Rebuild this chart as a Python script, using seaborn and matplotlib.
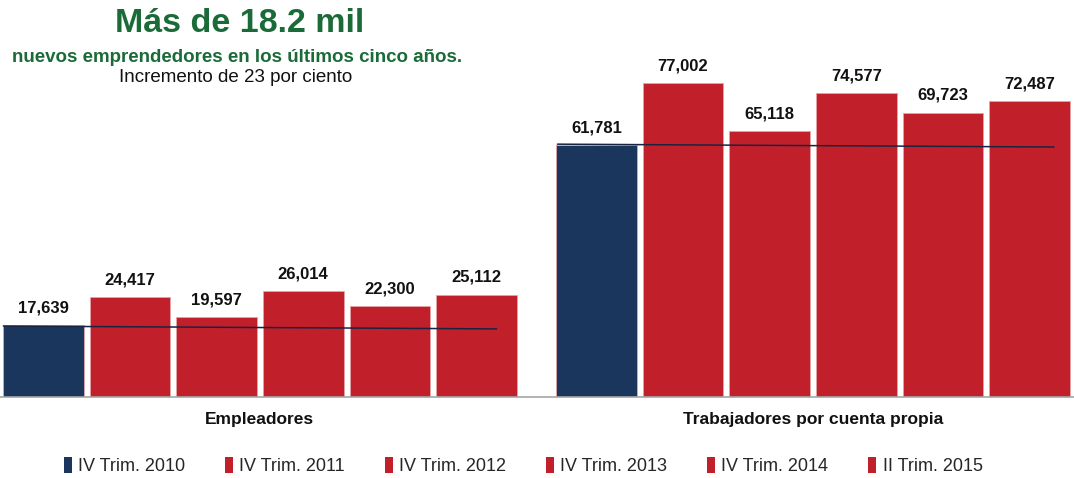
import matplotlib
matplotlib.use("Agg")
import matplotlib.pyplot as plt
import seaborn as sns
import pandas as pd
from matplotlib.patches import Patch

grupos = ["Empleadores", "Trabajadores por cuenta propia"]
periodos = ["IV Trim. 2010", "IV Trim. 2011", "IV Trim. 2012",
            "IV Trim. 2013", "IV Trim. 2014", "II Trim. 2015"]
empleadores = [17639, 24417, 19597, 26014, 22300, 25112]
cuenta_propia = [61781, 77002, 65118, 74577, 69723, 72487]
tendencia_emp = [17400, 16700]
tendencia_cp = [62000, 61300]

azul = "#1b365d"
rojo = "#c1202a"
colores = [azul] + [rojo] * 5

filas = []
for g, vals in zip(grupos, [empleadores, cuenta_propia]):
    for p, v in zip(periodos, vals):
        filas.append({"grupo": g, "periodo": p, "valor": v})
df = pd.DataFrame(filas)

sns.set_theme(style="white")
plt.rcParams["font.family"] = ["Liberation Sans", "DejaVu Sans"]

fig = plt.figure(figsize=(10.74, 4.78), dpi=100)
ax = fig.add_axes([0, 1 - 397 / 478, 1, 397 / 478])

sns.barplot(data=df, x="grupo", y="valor", hue="periodo", palette=colores,
            saturation=1, width=0.94, gap=0.07, edgecolor="#e6a3a7",
            linewidth=0.6, legend=False, ax=ax)

for cont in ax.containers:
    ax.bar_label(cont, fmt="{:,.0f}", padding=7, fontsize=12,
                 fontweight="bold", color="#111111")

ax.plot([-0.464, 0.428], tendencia_emp, color="#1c2340", lw=1.1)
ax.plot([0.538, 1.436], tendencia_cp, color="#1c2340", lw=1.1)

ax.set_xlim(-0.47, 1.472)
ax.set_ylim(0, 97350)
ax.set_yticks([])
ax.set_xlabel("")
ax.set_ylabel("")
for s in ["top", "left", "right"]:
    ax.spines[s].set_visible(False)
ax.spines["bottom"].set_color("#a6a6a6")
ax.spines["bottom"].set_linewidth(1.2)
ax.set_xticks([0, 1])
ax.set_xticklabels(grupos, fontsize=12.5, fontweight="bold", color="#111111")
ax.tick_params(axis="x", length=0, pad=11)
ax.set_xticks([0.5], minor=True)
ax.tick_params(axis="x", which="minor", length=6, color="#a6a6a6", width=1)

# titulos
verde = "#1a6b38"
fig.text(240 / 1074, 1 - 24 / 478, "Más de 18.2 mil", ha="center", va="center",
         fontsize=24.5, fontweight="bold", color=verde)
fig.text(237 / 1074, 1 - 57 / 478, "nuevos emprendedores en los últimos cinco años.",
         ha="center", va="center", fontsize=13.5, fontweight="bold", color=verde)
fig.text(236 / 1074, 1 - 77 / 478, "Incremento de 23 por ciento", ha="center",
         va="center", fontsize=13.5, color="#111111")

handles = [Patch(facecolor=c, edgecolor="none") for c in colores]
fig.legend(handles, periodos, loc="center", bbox_to_anchor=(0.487, 1 - 466 / 478),
           ncol=6, frameon=False, handlelength=0.45, handleheight=1.0,
           handletextpad=0.35, columnspacing=2.2,
           prop={"family": ["Liberation Sans Narrow", "Liberation Sans"], "size": 13})

fig.savefig("out.png", dpi=100)
